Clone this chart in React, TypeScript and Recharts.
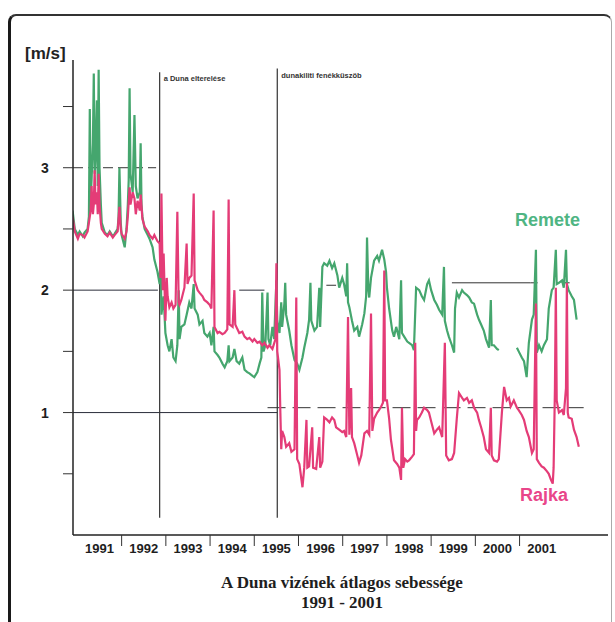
import React from "react";
import { LineChart, Line, XAxis, YAxis, ReferenceLine } from "recharts";

// [év, sebesség m/s] – Remete
const remete: [number, number | null][] = [
  [1990.89, 2.65], [1990.94, 2.5], [1991.01, 2.45], [1991.05, 2.48], [1991.12, 2.44], [1991.16, 2.47],
  [1991.23, 2.5], [1991.26, 2.6], [1991.28, 3.48], [1991.3, 2.75], [1991.32, 2.9], [1991.35, 3.2],
  [1991.37, 3.77], [1991.39, 2.95], [1991.41, 3.1], [1991.44, 3.55], [1991.46, 2.85], [1991.48, 3.8],
  [1991.5, 3.0], [1991.53, 2.7], [1991.55, 2.55], [1991.62, 2.47], [1991.68, 2.45], [1991.73, 2.48],
  [1991.8, 2.44], [1991.84, 2.46], [1991.91, 2.5], [1991.93, 2.6], [1991.95, 3.0], [1991.98, 2.55],
  [1992.0, 2.45], [1992.07, 2.35], [1992.11, 2.5], [1992.14, 2.7], [1992.16, 2.9], [1992.18, 3.65],
  [1992.2, 2.95], [1992.25, 2.8], [1992.29, 3.43], [1992.32, 2.85], [1992.36, 2.75], [1992.41, 2.8],
  [1992.43, 3.2], [1992.45, 2.7], [1992.47, 2.6], [1992.52, 2.5], [1992.59, 2.45], [1992.63, 2.42],
  [1992.7, 2.35], [1992.74, 2.25], [1992.81, 2.15], [1992.86, 2.05], [1992.88, 2.3], [1992.9, 1.8],
  [1992.95, 1.95], [1992.99, 1.65], [1993.04, 1.55], [1993.08, 1.5], [1993.13, 1.6], [1993.17, 1.45],
  [1993.22, 1.42], [1993.26, 1.55], [1993.29, 2.0], [1993.31, 1.6], [1993.35, 1.7], [1993.42, 1.72],
  [1993.47, 1.8], [1993.53, 1.9], [1993.58, 1.85], [1993.63, 2.05], [1993.65, 1.85], [1993.72, 1.8],
  [1993.76, 1.72], [1993.83, 1.75], [1993.87, 1.65], [1993.94, 1.62], [1993.99, 1.65], [1994.03, 1.55],
  [1994.08, 1.7], [1994.1, 1.5], [1994.17, 1.47], [1994.21, 1.45], [1994.28, 1.4], [1994.33, 1.37],
  [1994.39, 1.42], [1994.42, 1.55], [1994.44, 1.42], [1994.51, 1.45], [1994.55, 1.52], [1994.6, 1.42],
  [1994.66, 1.4], [1994.73, 1.45], [1994.78, 1.35], [1994.84, 1.33], [1994.89, 1.32], [1994.96, 1.3],
  [1995.0, 1.29], [1995.07, 1.33], [1995.12, 1.4], [1995.16, 1.45], [1995.18, 1.98], [1995.21, 1.5],
  [1995.25, 1.55], [1995.3, 1.98], [1995.32, 1.6], [1995.36, 1.55], [1995.41, 1.7], [1995.45, 1.6],
  [1995.5, 2.08], [1995.52, 1.75], [1995.57, 1.65], [1995.61, 1.9], [1995.63, 1.7], [1995.68, 1.89],
  [1995.7, 2.06], [1995.72, 1.8], [1995.79, 1.67], [1995.84, 1.55], [1995.91, 1.43], [1995.97, 1.4],
  [1996.02, 1.35], [1996.09, 1.45], [1996.13, 1.53], [1996.2, 1.65], [1996.24, 1.76], [1996.27, 2.06],
  [1996.29, 1.75], [1996.36, 1.67], [1996.42, 1.7], [1996.47, 2.02], [1996.49, 1.7], [1996.54, 2.19],
  [1996.58, 2.22], [1996.65, 2.2], [1996.7, 2.24], [1996.76, 2.18], [1996.81, 2.22], [1996.88, 2.12],
  [1996.92, 2.02], [1996.99, 2.1], [1997.03, 2.05], [1997.08, 1.95], [1997.1, 2.22], [1997.12, 1.9],
  [1997.15, 1.86], [1997.21, 1.75], [1997.26, 1.67], [1997.33, 1.7], [1997.37, 1.62], [1997.44, 1.72],
  [1997.49, 1.81], [1997.53, 1.95], [1997.55, 2.43], [1997.58, 2.0], [1997.6, 1.94], [1997.64, 2.1],
  [1997.71, 2.24], [1997.78, 2.28], [1997.82, 2.24], [1997.89, 2.33], [1997.94, 2.25], [1997.98, 2.15],
  [1998.0, 2.02], [1998.05, 1.85], [1998.12, 1.67], [1998.16, 1.62], [1998.21, 1.7], [1998.28, 1.6],
  [1998.32, 2.08], [1998.34, 1.65], [1998.39, 1.62], [1998.46, 1.58], [1998.5, 1.57], [1998.57, 1.55],
  [1998.61, 1.51], [1998.66, 2.02], [1998.73, 2.0], [1998.79, 1.95], [1998.84, 1.92], [1998.91, 2.05],
  [1998.95, 2.08], [1999.0, 2.0], [1999.07, 1.92], [1999.13, 1.88], [1999.18, 1.84], [1999.25, 1.8],
  [1999.29, 2.19], [1999.31, 1.75], [1999.36, 1.67], [1999.4, 1.62], [1999.47, 1.55], [1999.52, 1.49],
  [1999.54, 1.85], [1999.58, 1.98], [1999.63, 1.94], [1999.7, 2.0], [1999.74, 1.98], [1999.81, 1.96],
  [1999.86, 1.94], [1999.92, 1.9], [1999.97, 1.89], [2000.04, 1.8], [2000.08, 1.76], [2000.13, 1.72],
  [2000.19, 1.67], [2000.24, 1.6], [2000.31, 1.53], [2000.35, 1.92], [2000.37, 1.55], [2000.42, 1.55],
  [2000.49, 1.52], [2000.53, 1.51], [2000.74, null], [2000.94, 1.53], [2000.98, 1.5], [2001.05, 1.45],
  [2001.1, 1.42], [2001.16, 1.29], [2001.21, 1.57], [2001.28, 1.76], [2001.32, 1.8], [2001.37, 2.33],
  [2001.39, 1.49], [2001.44, 1.55], [2001.5, 1.5], [2001.55, 1.55], [2001.62, 1.6], [2001.66, 1.85],
  [2001.73, 2.0], [2001.77, 2.02], [2001.82, 2.33], [2001.84, 2.05], [2001.89, 2.06], [2001.96, 2.08],
  [2002.0, 2.02], [2002.05, 2.33], [2002.07, 2.05], [2002.11, 2.0], [2002.18, 1.95], [2002.23, 1.92],
  [2002.29, 1.76],
];

// [év, sebesség m/s] – Rajka
const rajka: [number, number][] = [
  [1990.89, 2.6], [1990.94, 2.48], [1991.01, 2.42], [1991.05, 2.46], [1991.12, 2.45], [1991.16, 2.43],
  [1991.23, 2.48], [1991.28, 2.6], [1991.3, 2.65], [1991.32, 2.85], [1991.35, 2.62], [1991.37, 2.7],
  [1991.39, 2.98], [1991.41, 2.7], [1991.44, 2.8], [1991.46, 2.62], [1991.48, 2.95], [1991.5, 2.7],
  [1991.53, 2.55], [1991.55, 2.5], [1991.62, 2.46], [1991.68, 2.44], [1991.73, 2.47], [1991.8, 2.43],
  [1991.84, 2.45], [1991.91, 2.48], [1991.95, 2.68], [1991.98, 2.5], [1992.0, 2.46], [1992.07, 2.42],
  [1992.11, 2.48], [1992.14, 2.6], [1992.18, 2.84], [1992.2, 2.7], [1992.25, 2.8], [1992.29, 2.75],
  [1992.32, 2.62], [1992.36, 2.73], [1992.41, 2.65], [1992.43, 2.78], [1992.47, 2.58], [1992.52, 2.52],
  [1992.59, 2.48], [1992.63, 2.45], [1992.7, 2.42], [1992.74, 2.45], [1992.81, 2.4], [1992.86, 2.38],
  [1992.88, 2.1], [1992.9, 2.79], [1992.93, 2.0], [1992.95, 2.3], [1992.97, 2.02], [1992.99, 1.75],
  [1993.02, 2.1], [1993.04, 1.95], [1993.08, 1.86], [1993.13, 1.9], [1993.17, 1.85], [1993.22, 1.88],
  [1993.26, 2.64], [1993.29, 1.9], [1993.31, 1.88], [1993.35, 1.92], [1993.42, 2.02], [1993.47, 2.38],
  [1993.49, 2.05], [1993.53, 2.1], [1993.58, 2.12], [1993.63, 2.79], [1993.65, 2.08], [1993.72, 2.0],
  [1993.76, 1.98], [1993.83, 1.95], [1993.87, 1.92], [1993.94, 1.9], [1993.99, 1.88], [1994.03, 1.85],
  [1994.08, 2.65], [1994.1, 1.7], [1994.17, 1.65], [1994.21, 1.66], [1994.28, 1.64], [1994.33, 1.65],
  [1994.39, 1.68], [1994.42, 2.74], [1994.44, 1.72], [1994.51, 1.7], [1994.55, 2.0], [1994.57, 1.72],
  [1994.62, 1.68], [1994.66, 1.65], [1994.73, 1.66], [1994.78, 1.62], [1994.84, 1.6], [1994.89, 1.61],
  [1994.96, 1.58], [1995.0, 1.6], [1995.07, 1.57], [1995.12, 1.58], [1995.18, 1.55], [1995.23, 1.57],
  [1995.3, 1.53], [1995.34, 1.55], [1995.41, 1.52], [1995.48, 1.6], [1995.5, 2.22], [1995.52, 1.5],
  [1995.57, 1.35], [1995.59, 1.0], [1995.61, 0.7], [1995.63, 0.85], [1995.68, 0.8], [1995.72, 0.72],
  [1995.79, 0.75], [1995.84, 0.68], [1995.91, 0.7], [1995.95, 1.94], [1995.97, 0.62], [1996.02, 0.58],
  [1996.09, 0.39], [1996.13, 0.55], [1996.18, 0.94], [1996.2, 0.55], [1996.24, 0.56], [1996.31, 0.88],
  [1996.33, 0.55], [1996.4, 0.54], [1996.47, 0.8], [1996.49, 0.55], [1996.54, 0.6], [1996.58, 0.96],
  [1996.65, 0.94], [1996.7, 0.92], [1996.76, 0.96], [1996.81, 0.94], [1996.85, 0.88], [1996.92, 0.86],
  [1996.99, 0.84], [1997.03, 0.85], [1997.08, 0.8], [1997.12, 1.78], [1997.15, 0.82], [1997.19, 1.2],
  [1997.21, 0.8], [1997.26, 0.75], [1997.33, 0.65], [1997.37, 0.59], [1997.42, 0.65], [1997.49, 0.83],
  [1997.55, 0.85], [1997.6, 0.82], [1997.64, 1.81], [1997.67, 0.85], [1997.71, 0.95], [1997.78, 1.0],
  [1997.82, 1.02], [1997.87, 1.05], [1997.91, 1.08], [1997.94, 2.16], [1997.96, 1.1], [1998.0, 1.1],
  [1998.05, 0.95], [1998.09, 0.78], [1998.16, 0.61], [1998.23, 0.58], [1998.28, 0.55], [1998.32, 0.45],
  [1998.34, 1.04], [1998.37, 0.55], [1998.41, 0.62], [1998.46, 0.6], [1998.5, 0.61], [1998.57, 0.64],
  [1998.61, 0.66], [1998.64, 1.57], [1998.66, 0.85], [1998.68, 0.94], [1998.73, 0.96], [1998.79, 1.0],
  [1998.84, 1.04], [1998.91, 1.02], [1998.95, 1.0], [1999.02, 0.9], [1999.07, 0.83], [1999.13, 0.86],
  [1999.18, 0.88], [1999.25, 0.8], [1999.31, 1.57], [1999.34, 0.65], [1999.4, 0.61], [1999.47, 0.62],
  [1999.52, 0.67], [1999.58, 0.95], [1999.63, 1.16], [1999.7, 1.12], [1999.74, 1.1], [1999.81, 1.12],
  [1999.86, 1.08], [1999.92, 1.1], [1999.97, 1.04], [2000.04, 1.0], [2000.08, 0.94], [2000.13, 0.88],
  [2000.19, 0.8], [2000.24, 0.7], [2000.31, 0.67], [2000.35, 1.04], [2000.37, 0.65], [2000.42, 0.61],
  [2000.49, 0.6], [2000.53, 0.62], [2000.6, 1.0], [2000.65, 1.21], [2000.71, 1.1], [2000.76, 1.12],
  [2000.8, 1.05], [2000.87, 1.1], [2000.94, 1.04], [2000.98, 1.02], [2001.05, 0.98], [2001.1, 0.94],
  [2001.16, 0.85], [2001.21, 0.8], [2001.28, 0.67], [2001.32, 0.7], [2001.37, 1.89], [2001.39, 0.62],
  [2001.44, 0.59], [2001.5, 0.56], [2001.55, 0.55], [2001.62, 0.52], [2001.66, 0.5], [2001.71, 0.45],
  [2001.75, 0.42], [2001.77, 0.55], [2001.8, 1.2], [2001.82, 2.02], [2001.84, 1.1], [2001.89, 1.0],
  [2001.96, 1.02], [2002.0, 0.98], [2002.05, 1.2], [2002.07, 2.06], [2002.09, 1.0], [2002.11, 0.96],
  [2002.18, 0.95], [2002.23, 0.86], [2002.29, 0.8], [2002.34, 0.72],
];

// egész szám = osztásvonal, .5 = évszám felirat
const yearTicks = [
  1991.5, 1992, 1992.5, 1993, 1993.5, 1994, 1994.5, 1995, 1995.5, 1996, 1996.5,
  1997, 1997.5, 1998, 1998.5, 1999, 1999.5, 2000, 2000.5, 2001, 2001.5,
];
const speedTicks = [0.5, 1, 1.5, 2, 2.5, 3, 3.5];

const remeteData = remete.map(([t, v]) => ({ t, v }));
const rajkaData = rajka.map(([t, v]) => ({ t, v }));

const SANS = "'Liberation Sans', Arial, sans-serif";
const GREEN = "#45a66e";
const PINK = "#e43c77";

function YearTick(props: any) {
  const { x, y, payload } = props;
  const v = payload.value;
  if (Number.isInteger(v)) {
    return <line x1={x} x2={x} y1={y} y2={y + 11} stroke="#333" strokeWidth={1} />;
  }
  return (
    <text x={x} y={y + 18} textAnchor="middle" fontFamily={SANS} fontWeight="bold" fontSize={13} fill="#1e1e1e">
      {Math.floor(v)}
    </text>
  );
}

function SpeedTick(props: any) {
  const { x, y, payload } = props;
  if (!Number.isInteger(payload.value)) return <g />;
  return (
    <text x={x - 18} y={y + 5} textAnchor="middle" fontFamily={SANS} fontWeight="bold" fontSize={14} fill="#1e1e1e">
      {payload.value}
    </text>
  );
}

const noteLabel = (text: string) => (p: any) => (
  <text x={p.viewBox.x + 4} y={p.viewBox.y + 9} fontFamily={SANS} fontWeight="bold" fontSize={7.5} fill="#333">
    {text}
  </text>
);

export default function App() {
  return (
    <div style={{ position: "absolute", left: 0, top: 0, width: 615, height: 622, overflow: "hidden", background: "#fff" }}>
      <div
        style={{
          position: "absolute", left: 8, top: 14, width: 604, height: 620, boxSizing: "border-box",
          borderLeft: "3px solid #1a1a1a", borderTop: "2px solid #333", borderRight: "1px solid #aaa",
          borderTopLeftRadius: 8, borderTopRightRadius: 8,
        }}
      />
      <div style={{ position: "absolute", left: 25, top: 44, fontFamily: SANS, fontWeight: "bold", fontSize: 17, color: "#222" }}>
        [m/s]
      </div>
      <div style={{ position: "absolute", left: 0, top: 0 }}>
        <LineChart width={615} height={622} margin={{ top: 60, right: 7, left: 72, bottom: 86 }}>
          <XAxis
            type="number" dataKey="t" domain={[1990.9, 2003]} ticks={yearTicks} height={1}
            tickSize={0} tickMargin={0} tickLine={false} tick={<YearTick />} interval={0}
            axisLine={{ stroke: "#222", strokeWidth: 1.5 }} allowDataOverflow
          />
          <YAxis
            type="number" domain={[0, 3.88]} ticks={speedTicks} width={1} interval={0}
            tickSize={10} tickMargin={0} tickLine={{ stroke: "#333" }} tick={<SpeedTick />}
            axisLine={{ stroke: "#222", strokeWidth: 1.5 }} allowDataOverflow
          />
          <ReferenceLine segment={[{ x: 1990.9, y: 3 }, { x: 1992.78, y: 3 }]} stroke="#333" strokeDasharray="10 5" />
          <ReferenceLine segment={[{ x: 1990.9, y: 2 }, { x: 1992.82, y: 2 }]} stroke="#2a2d3a" />
          <ReferenceLine segment={[{ x: 1994.66, y: 2 }, { x: 1995.23, y: 2 }]} stroke="#2a2d3a" />
          <ReferenceLine segment={[{ x: 1990.9, y: 1 }, { x: 1995.52, y: 1 }]} stroke="#2a2d3a" />
          <ReferenceLine segment={[{ x: 1995.3, y: 1.04 }, { x: 2002.45, y: 1.04 }]} stroke="#333" strokeDasharray="18 7" />
          <ReferenceLine segment={[{ x: 1996.63, y: 2.04 }, { x: 1996.85, y: 2.04 }]} stroke="#333" />
          <ReferenceLine segment={[{ x: 1999.47, y: 2.06 }, { x: 2001.25, y: 2.06 }]} stroke="#333" />
          <ReferenceLine segment={[{ x: 2001.25, y: 2.06 }, { x: 2002.4, y: 2.06 }]} stroke="#333" strokeDasharray="7 25" />
          <ReferenceLine
            segment={[{ x: 1992.86, y: 3.78 }, { x: 1992.86, y: 0.14 }]} stroke="#333" strokeWidth={1.2}
            label={{ content: noteLabel("a Duna elterelése") }}
          />
          <ReferenceLine
            segment={[{ x: 1995.52, y: 3.81 }, { x: 1995.52, y: 0.14 }]} stroke="#333" strokeWidth={1.2}
            label={{ content: noteLabel("dunakiliti fenékküszöb") }}
          />
          <Line data={remeteData} dataKey="v" type="linear" stroke={GREEN} strokeWidth={2.2} dot={false} isAnimationActive={false} />
          <Line data={rajkaData} dataKey="v" type="linear" stroke={PINK} strokeWidth={2.2} dot={false} isAnimationActive={false} />
        </LineChart>
      </div>
      <div style={{ position: "absolute", left: 515, top: 210, fontFamily: SANS, fontWeight: "bold", fontSize: 18, color: "#4fb583" }}>
        Remete
      </div>
      <div style={{ position: "absolute", left: 520, top: 485, fontFamily: SANS, fontWeight: "bold", fontSize: 18, color: "#e9468a" }}>
        Rajka
      </div>
      <div
        style={{
          position: "absolute", left: 0, width: 684, top: 573, textAlign: "center", lineHeight: "20px",
          fontFamily: "'Liberation Serif', 'Times New Roman', serif", fontWeight: "bold", fontSize: 17, color: "#1e1e1e",
        }}
      >
        A Duna vizének átlagos sebessége
        <br />
        1991 - 2001
      </div>
    </div>
  );
}
